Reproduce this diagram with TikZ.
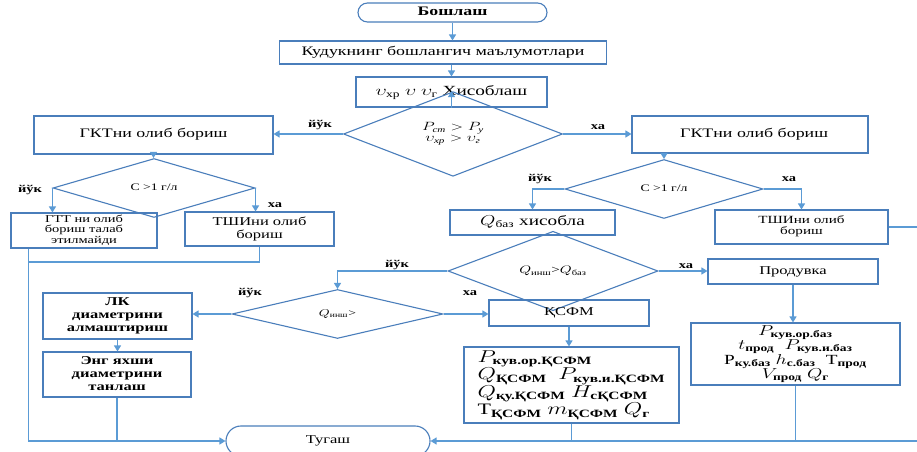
\documentclass[tikz,border=0pt]{standalone}
\usepackage{fontspec}
\usepackage{amsmath}
\usepackage{graphicx}
\setmainfont{Liberation Serif}
\usetikzlibrary{shapes.geometric,arrows.meta,calc}
\definecolor{bordc}{RGB}{74,126,187}
\definecolor{arrc}{RGB}{91,155,213}
\newcommand\sx[1]{\scalebox{1.38}[1]{\begin{tabular}{@{}c@{}}#1\end{tabular}}}
\newcommand\sxl[1]{\scalebox{1.38}[1]{\begin{tabular}{@{}l@{}}#1\end{tabular}}}
\newcommand\fs[2]{\fontsize{#1}{#2}\selectfont}
\begin{document}
\begin{tikzpicture}[x=1bp,y=-1bp,
  box/.style={draw=bordc,line width=1.1bp,rectangle,inner sep=0pt,text=black},
  dia/.style={draw=bordc,line width=1.1bp,diamond,inner sep=0pt,text=black},
  conn/.style={draw=arrc,line width=1.2bp},
  arr/.style={conn,-{Triangle[length=6bp,width=7bp]}},
  lab/.style={font=\fs{10.5}{12}\bfseries,inner sep=0pt}]
\useasboundingbox (0,0) rectangle (917,452);
\clip (0,0) rectangle (917,452);
\fill[white] (0,0) rectangle (917,452);

% nodes
\node[box,rounded corners=9.5bp,minimum width=189bp,minimum height=19bp] (start) at (452.5,12.5) {\fs{13}{15}\bfseries\sx{Бошлаш}};
\node[box,minimum width=327bp,minimum height=23bp] (info) at (443,52.5) {\fs{13}{15}\sx{Кудукнинг бошлангич маълумотлари}};
\node[box,minimum width=191bp,minimum height=30bp] (calc) at (451.5,92) {\fs{14}{16}\sx{$\upsilon_{\text{хр}}$ $\upsilon$ $\upsilon_{\text{г}}$ Хисоблаш}};
\node[dia,minimum width=219bp,minimum height=47bp] (d1) at (453,134) {\fs{11.5}{11}\itshape\sx{$P_{\textit{ст}}>P_{\textit{у}}$\\$\upsilon_{\textit{хр}}>\upsilon_{\textit{г}}$}};

\node[box,minimum width=239bp,minimum height=38bp] (gktL) at (153.5,135) {\fs{13}{15}\sx{ГКТни олиб бориш}};
\node[dia,minimum width=202bp,minimum height=32bp] (d2) at (154,188) {\fs{10}{12}\sx{С >1 г/л}};
\node[box,minimum width=146bp,minimum height=35bp] (gtt) at (84,230.5) {\fs{10.5}{10}\sx{ГТТ ни олиб\\бориш талаб\\этилмайди}};
\node[box,minimum width=149bp,minimum height=34bp] (tshL) at (259.5,229) {\fs{12}{13}\sx{ТШИни олиб\\бориш}};

\node[box,minimum width=236bp,minimum height=37bp] (gktR) at (750,134.5) {\fs{13}{15}\sx{\hspace*{6bp}ГКТни олиб бориш}};
\node[dia,minimum width=198bp,minimum height=32bp] (d3) at (664,189) {\fs{10}{12}\sx{С >1 г/л}};
\node[box,minimum width=165bp,minimum height=25bp] (qbaz) at (532.5,222.5) {\fs{14}{16}\sx{$Q_{\text{баз}}$ хисобла}};
\node[box,minimum width=173bp,minimum height=34bp] (tshR) at (801.5,227) {\fs{11}{11}\sx{ТШИни олиб\\бориш}};

\node[dia,minimum width=210bp,minimum height=45bp] (d4) at (553,271) {\fs{11}{12}\sx{$Q_{\text{инш}}$>$Q_{\text{баз}}$}};
\node[box,minimum width=170bp,minimum height=25bp] (prod) at (793,271.5) {\fs{12}{14}\sx{Продувка}};
\node[dia,minimum width=211bp,minimum height=48bp] (d5) at (337.5,314) {\fs{10}{12}\sx{$Q_{\text{инш}}$>}};
\node[box,minimum width=149bp,minimum height=46bp] (lk) at (117.5,316) {\fs{12}{13}\bfseries\sx{ЛК\\диаметрини\\алмаштириш}};
\node[box,minimum width=160bp,minimum height=26bp] (ksfm) at (569,313) {\fs{12}{14}\sx{ҚСФМ}};
\node[box,minimum width=148bp,minimum height=45bp] (eng) at (117,374.5) {\fs{12}{13}\bfseries\sx{Энг яхши\\диаметрини\\танлаш}};
\node[box,minimum width=215bp,minimum height=76bp] (bigK) at (571.5,385) {\fs{16}{17.5}\sxl{$P_{\textbf{кув.ор.ҚСФМ}}$\\$Q_{\textbf{ҚСФМ}}$\; $P_{\textbf{кув.и.ҚСФМ}}$\\$Q_{\textbf{қу.ҚСФМ}}$ $H_{\textbf{сҚСФМ}}$\\Т$_{\textbf{ҚСФМ}}$ $m_{\textbf{ҚСФМ}}$ $Q_{\textbf{г}}$}};
\node[box,minimum width=209bp,minimum height=62bp] (bigP) at (795.5,354) {\fs{14}{14.5}\sx{$P_{\textbf{кув.ор.баз}}$\\$t_{\textbf{прод}}$\; $P_{\textbf{кув.и.баз}}$\\Р$_{\textbf{ку.баз}}$ $h_{\textbf{с.баз}}$\; Т$_{\textbf{прод}}$\\$V_{\textbf{прод}}$ $Q_{\textbf{г}}$}};
\node[box,rounded corners=15bp,minimum width=204bp,minimum height=30bp] (end) at (328,441) {\fs{12}{14}\sx{Тугаш}};

% helper coordinates
\coordinate (gttb) at ($(gtt.south west)+(18,0)$);
\coordinate (join) at (29,262);
\coordinate (rr) at (921,227);

% connectors
\draw[arr] (start.south) -- (start.south |- info.north);
\draw[arr] (calc.north |- info.south) -- (calc.north);
\draw[arr] (calc.south) -- (calc.south |- d1.north);
\draw[arr] (d1.west) -- (d1.west -| gktL.east);
\draw[arr] (d1.east) -- (d1.east -| gktR.west);
\draw[arr] (gktL.south) -- (gktL.south |- d2.north);
\draw[arr] (d2.west) -- (d2.west |- gtt.north);
\draw[arr] (d2.east) -- (d2.east |- tshL.north);
\draw[arr] (gktR.south -| d3.north) -- (d3.north);
\draw[arr] (d3.west) -| (qbaz.north);
\draw[arr] (d3.east) -| (tshR.north);
\draw[arr] (d4.west) -| (d5.north);
\draw[arr] (d4.east) -- (d4.east -| prod.west);
\draw[arr] (d5.west) -- (d5.west -| lk.east);
\draw[arr] (d5.east) -- (d5.east -| ksfm.west);
\draw[arr] (lk.south) -- (lk.south |- eng.north);
\draw[arr] (ksfm.south) -- (ksfm.south |- bigK.north);
\draw[arr] (prod.south) -- (prod.south |- bigP.north);
\draw[arr] (gttb) |- (end.west);
\draw[conn] (tshL.south) |- (join);
\draw[conn] (eng.south) -- (eng.south |- end.west);
\draw[arr] (tshR.east) -- (rr) |- (end.east);
\draw[conn] (bigK.south) -- (bigK.south |- end.east);
\draw[conn] (bigP.south) -- (bigP.south |- end.east);

% labels
\node[lab] (l1) at (320,125) {\sx{йўк}};
\node[lab] (l2) at (598,127) {\sx{ха}};
\node[lab] (l3) at (30,190) {\sx{йўк}};
\node[lab] (l4) at (275,205) {\sx{ха}};
\node[lab] (l5) at (540,179) {\sx{йўк}};
\node[lab] (l6) at (789,179) {\sx{ха}};
\node[lab] (l7) at (397,265) {\sx{йўк}};
\node[lab] (l8) at (686,266) {\sx{ха}};
\node[lab] (l9) at (250,293) {\sx{йўк}};
\node[lab] (l10) at (470,293) {\sx{ха}};
\end{tikzpicture}
\end{document}
